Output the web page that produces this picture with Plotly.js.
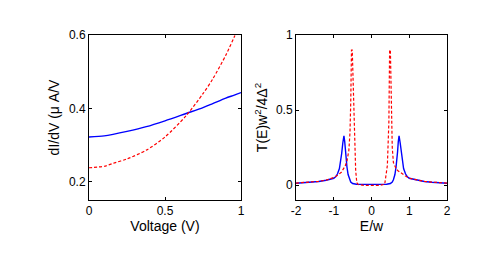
<!DOCTYPE html>
<html>
<head>
<meta charset="utf-8">
<script src="https://cdn.plot.ly/plotly-3.0.1.min.js"></script>
<style>html,body{margin:0;padding:0;background:#fff;}#chart{width:501px;height:256px;}</style>
</head>
<body>
<div id="chart"></div>
<script>
// Left panel: dI/dV vs voltage
const voltage = [0, 0.1, 0.158, 0.25, 0.377, 0.5, 0.639, 0.75, 0.814, 0.9, 0.956, 1.0];
const didvBlue = [0.322, 0.325, 0.329, 0.337, 0.350, 0.366, 0.386, 0.402, 0.413, 0.428, 0.436, 0.443];
const didvRed = [0.238, 0.242, 0.250, 0.262, 0.286, 0.322, 0.380, 0.440, 0.480, 0.545, 0.595, 0.640];

// Right panel: transmission vs E/w
const energyBlue = [-2.0, -1.8, -1.6, -1.4, -1.2, -1.0, -0.95, -0.9, -0.85, -0.82, -0.79, -0.76, -0.73, -0.71, -0.69, -0.67, -0.65, -0.62, -0.58, -0.55, -0.5, -0.4, -0.2, 0,
  0.2, 0.4, 0.5, 0.55, 0.58, 0.62, 0.65, 0.67, 0.69, 0.71, 0.73, 0.76, 0.79, 0.82, 0.85, 0.9, 0.95, 1.0, 1.2, 1.4, 1.6, 1.8, 2.0];
const transBlue = [0.012, 0.015, 0.018, 0.023, 0.032, 0.045, 0.055, 0.075, 0.11, 0.15, 0.21, 0.28, 0.327, 0.29, 0.22, 0.16, 0.12, 0.07, 0.035, 0.02, 0.01, 0.005, 0.004, 0.004,
  0.004, 0.005, 0.01, 0.02, 0.035, 0.07, 0.12, 0.16, 0.22, 0.29, 0.327, 0.28, 0.21, 0.15, 0.11, 0.075, 0.055, 0.045, 0.032, 0.023, 0.018, 0.015, 0.012];
const energyRed = [-2.0, -1.8, -1.6, -1.4, -1.2, -1.0, -0.9, -0.8, -0.7, -0.65, -0.6, -0.57, -0.55, -0.53, -0.51, -0.48, -0.45, -0.42, -0.39, -0.35, -0.2, 0,
  0.2, 0.35, 0.38, 0.42, 0.46, 0.48, 0.5, 0.52, 0.55, 0.58, 0.65, 0.7, 0.8, 0.9, 1.0, 1.2, 1.4, 1.6, 1.8, 2.0];
const transRed = [0.013, 0.016, 0.019, 0.024, 0.033, 0.05, 0.065, 0.085, 0.125, 0.16, 0.23, 0.35, 0.55, 0.9, 0.9, 0.6, 0.3, 0.1, 0.015, 0.003, -0.003, -0.004,
  -0.003, 0.005, 0.05, 0.13, 0.42, 0.9, 0.9, 0.5, 0.25, 0.15, 0.11, 0.095, 0.075, 0.06, 0.045, 0.033, 0.024, 0.019, 0.016, 0.013];

const leftTicksY = [0.2, 0.4, 0.6];
const leftTicksX = [0, 0.5, 1];
const rightTicksY = [0, 0.5, 1];
const rightTicksX = [-2, -1, 0, 1, 2];

const blue = '#0000ff', red = '#ff0000';
const data = [
  {x: voltage, y: didvBlue, type: 'scatter', mode: 'lines', line: {color: blue, width: 1.4, shape: 'spline', smoothing: 0.8}, xaxis: 'x', yaxis: 'y'},
  {x: voltage, y: didvRed, type: 'scatter', mode: 'lines', line: {color: red, width: 1.2, dash: '3px,2px', shape: 'spline', smoothing: 0.8}, xaxis: 'x', yaxis: 'y'},
  {x: energyBlue, y: transBlue, type: 'scatter', mode: 'lines', line: {color: blue, width: 1.4}, xaxis: 'x2', yaxis: 'y2'},
  {x: energyRed, y: transRed, type: 'scatter', mode: 'lines', line: {color: red, width: 1.2, dash: '3px,2px'}, xaxis: 'x2', yaxis: 'y2'}
];

const axBase = {
  showline: true, linecolor: '#000', linewidth: 1, mirror: 'ticks',
  ticks: 'inside', ticklen: 3, tickcolor: '#000', tickwidth: 1,
  showgrid: false, zeroline: false,
  tickfont: {family: 'Liberation Sans, Arial, sans-serif', size: 12, color: '#000'},
  fixedrange: true
};
const titleFont = {family: 'Liberation Sans, Arial, sans-serif', size: 14, color: '#000'};

const layout = {
  width: 501, height: 256,
  margin: {l: 0, r: 0, t: 0, b: 0},
  paper_bgcolor: '#fff', plot_bgcolor: '#fff',
  showlegend: false,
  xaxis: Object.assign({}, axBase, {domain: [89/501, 241/501], range: [0, 1], tickvals: leftTicksX, ticktext: ['0', '0.5', '1'],
    title: {text: 'Voltage (V)', font: titleFont, standoff: 3}, anchor: 'y'}),
  yaxis: Object.assign({}, axBase, {domain: [56/256, 221/256], range: [0.15, 0.6], tickvals: leftTicksY, ticktext: ['0.2', '0.4', '0.6'],
    title: {text: 'dI/dV (μ A/V', font: titleFont, standoff: 6}, anchor: 'x'}),
  xaxis2: Object.assign({}, axBase, {domain: [296/501, 447/501], range: [-2, 2], tickvals: rightTicksX, ticktext: ['-2', '-1', '0', '1', '2'],
    title: {text: 'E/w', font: titleFont, standoff: 3}, anchor: 'y2'}),
  yaxis2: Object.assign({}, axBase, {domain: [56/256, 221/256], range: [-0.1, 1], tickvals: rightTicksY, ticktext: ['0', '0.5', '1'],
    title: {text: 'T(E)w<sup>2</sup>/4Δ<sup>2</sup>', font: titleFont, standoff: 5}, anchor: 'x2'})
};

Plotly.newPlot('chart', data, layout, {staticPlot: true, displayModeBar: false});
</script>
</body>
</html>
